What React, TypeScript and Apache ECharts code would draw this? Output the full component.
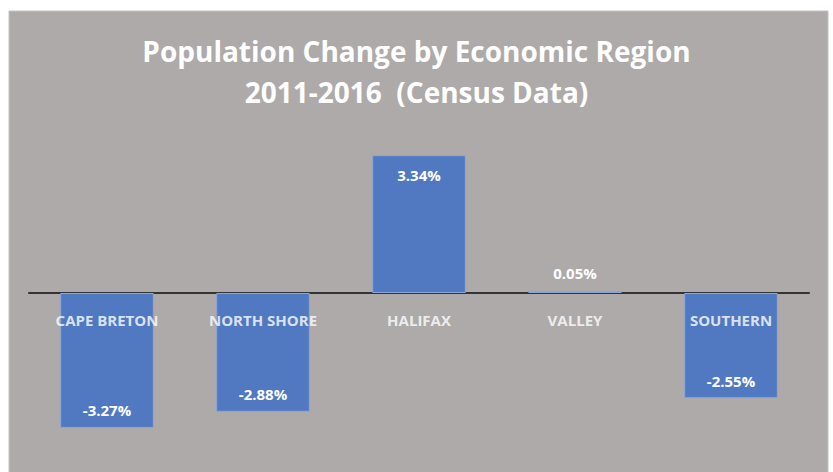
import React, { useEffect, useRef } from "react";
import * as echarts from "echarts";

const categories = ["CAPE BRETON", "NORTH SHORE", "HALIFAX", "VALLEY", "SOUTHERN"];
const changePct = [-3.27, -2.88, 3.34, 0.05, -2.55];
const titleLines = ["Population Change by Economic Region", "2011-2016  (Census Data)"];

const FONT = "'Open Sans', Lato, sans-serif";

export default function App() {
  const ref = useRef<HTMLDivElement>(null);
  useEffect(() => {
    if (!ref.current) return;
    const chart = echarts.init(ref.current, undefined, { renderer: "svg" });
    const data = changePct.map((v) => {
      let position = "top";
      let distance = 10;
      if (v >= 0.5) {
        position = "insideTop";
        distance = 12;
      } else if (v < 0) {
        position = "insideBottom";
        distance = 10;
      }
      return { value: v, label: { position, distance } };
    });
    chart.setOption({
      animation: false,
      backgroundColor: "#ffffff",
      graphic: [
        {
          type: "rect",
          z: -10,
          silent: true,
          shape: { x: 9, y: 11, width: 819, height: 470 },
          style: { fill: "#adaaa9", stroke: "#c4c2c1", lineWidth: 1 },
        },
      ],
      title: {
        text: titleLines.join("\n"),
        left: "center",
        top: 25,
        textStyle: {
          color: "#ffffff",
          fontFamily: FONT,
          fontWeight: "bold",
          fontSize: 28,
          lineHeight: 41,
        },
      },
      grid: { left: 29, right: 24, top: 128, bottom: 14, containLabel: false, outerBoundsMode: "none" },
      xAxis: {
        type: "category",
        data: categories,
        axisLine: { show: true, onZero: true, lineStyle: { color: "#333333", width: 2 } },
        axisTick: { show: false },
        axisLabel: { show: false },
        splitLine: { show: false },
      },
      yAxis: {
        type: "value",
        min: -4,
        max: 4,
        show: false,
        splitLine: { show: false },
      },
      series: [
        {
          type: "bar",
          data,
          barCategoryGap: "40%",
          itemStyle: { color: "#5079c1", borderColor: "#8ea6d6", borderWidth: 1 },
          label: {
            show: true,
            color: "#ffffff",
            fontFamily: FONT,
            fontWeight: "bold",
            fontSize: 15,
            formatter: (p: any) => p.value.toFixed(2) + "%",
          },
        },
        {
          type: "scatter",
          data: categories.map((c) => [c, 0]),
          symbolSize: 0,
          silent: true,
          z: 5,
          label: {
            show: true,
            position: "bottom",
            distance: 19,
            color: "#ffffff",
            fontFamily: FONT,
            fontWeight: "bold",
            fontSize: 15,
            formatter: (p: any) => p.name || p.value[0],
          },
        },
      ],
    });
    return () => chart.dispose();
  }, []);
  return (
    <div
      ref={ref}
      style={{ position: "absolute", left: 0, top: 0, width: 833, height: 472 }}
    />
  );
}
